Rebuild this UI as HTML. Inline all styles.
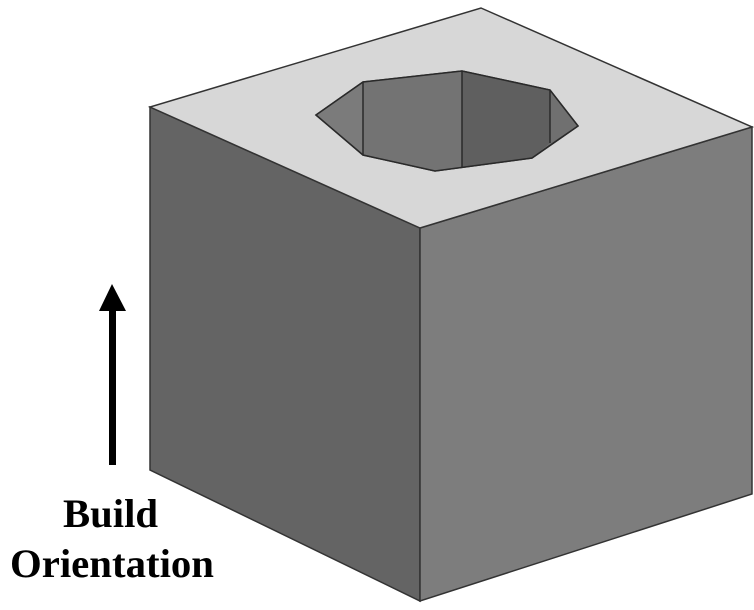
<!DOCTYPE html>
<html><head><style>
html,body{margin:0;padding:0;background:#fff;width:754px;height:610px;overflow:hidden}
svg{display:block}
</style></head><body>
<svg width="754" height="610" viewBox="0 0 754 610" xmlns="http://www.w3.org/2000/svg">
<polygon points="150,107 420,228 420,601 150,470" fill="#646464" stroke="#333" stroke-width="1.5"/>
<polygon points="420,228 752,127 752,494 420,601" fill="#7d7d7d" stroke="#333" stroke-width="1.5"/>
<polygon points="481,8 752,127 420,228 150,107" fill="#d7d7d7" stroke="#333" stroke-width="1.5"/>
<polygon points="316,115 363,82 462,71 550,90 578,126 532,158 435,171 363,155" fill="#6e6e6e" stroke="#2a2a2a" stroke-width="1.5"/>
<polygon points="316,115 363,82 363,155" fill="#7b7b7b"/>
<polygon points="363,82 462,71 462,167 435,171 363,155" fill="#737373"/>
<polygon points="462,71 550,90 550,143 532,158 462,167" fill="#5f5f5f"/>
<polygon points="550,90 578,126 550,143" fill="#707070"/>
<polygon points="316,115 363,82 462,71 550,90 578,126 532,158 435,171 363,155" fill="none" stroke="#2a2a2a" stroke-width="1.5"/>
<line x1="363" y1="82" x2="363" y2="155" stroke="#2a2a2a" stroke-width="1.5"/>
<line x1="462" y1="71" x2="462" y2="167" stroke="#2a2a2a" stroke-width="1.5"/>
<line x1="550" y1="90" x2="550" y2="143" stroke="#2a2a2a" stroke-width="1.5"/>
<rect x="109" y="305" width="7" height="160" fill="#000"/>
<polygon points="112,284 99,311 126,311" fill="#000"/>
<text x="63" y="527" font-family="Liberation Serif, serif" font-weight="bold" font-size="40" fill="#000" textLength="95" lengthAdjust="spacingAndGlyphs">Build</text>
<text x="10" y="577" font-family="Liberation Serif, serif" font-weight="bold" font-size="40" fill="#000" textLength="204" lengthAdjust="spacingAndGlyphs">Orientation</text>
</svg>
</body></html>
